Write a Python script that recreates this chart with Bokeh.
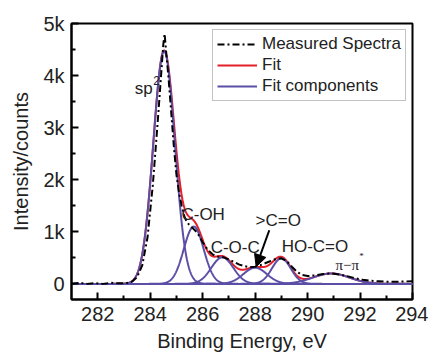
import numpy as np
from bokeh.plotting import figure
from bokeh.models import (FixedTicker, Legend, LegendItem, Arrow, NormalHead,
                          Range1d, ColumnDataSource)
from bokeh.core.properties import value
from bokeh.embed import file_html
from bokeh.resources import INLINE

# ---- measured spectrum ----
meas_x = [281.0, 281.3, 281.6, 281.9, 282.2, 282.5, 282.8, 283.1, 283.3, 283.5,
          283.7, 283.9, 284.1, 284.3, 284.4, 284.5, 284.55, 284.6, 284.7, 284.8,
          284.9, 285.0, 285.1, 285.2, 285.3, 285.4, 285.6, 285.8, 286.0, 286.2,
          286.4, 286.6, 286.8, 287.0, 287.2, 287.4, 287.6, 287.8, 288.0, 288.2,
          288.4, 288.6, 288.8, 289.0, 289.2, 289.4, 289.6, 289.8, 290.0, 290.3,
          290.6, 290.9, 291.2, 291.5, 291.8, 292.1, 292.4, 292.7, 293.0, 293.3,
          293.6, 294.0]
meas_y = [0, 20, 0, 15, 0, 20, 10, 15, 40, 130,
          360, 900, 1900, 3200, 3900, 4600, 4800, 4500, 3950, 3300,
          2650, 2100, 1750, 1500, 1300, 1180, 1080, 980, 800, 650,
          560, 520, 510, 470, 420, 370, 340, 320, 330, 360,
          400, 440, 480, 490, 440, 330, 230, 170, 150, 165,
          190, 200, 180, 150, 110, 80, 60, 50, 40, 40,
          45, 50]

# ---- fit components: centre, height, width ----
comp_names = ["sp2", "C-OH", "C-O-C", ">C=O", "HO-C=O", "pi-pi*"]
comp_center = [284.53, 285.66, 286.75, 288.0, 289.0, 290.9]
comp_height = [4470, 1100, 510, 310, 490, 200]
comp_sigma = [0.41, 0.38, 0.42, 0.45, 0.36, 0.70]

# ---- ticks ----
x_ticks = [282, 284, 286, 288, 290, 292, 294]
x_minor = [283, 285, 287, 289, 291, 293]
y_ticks = [0, 1000, 2000, 3000, 4000, 5000]
y_minor = [500, 1500, 2500, 3500, 4500]
y_tick_labels = ["0", "1k", "2k", "3k", "4k", "5k"]

# ---- annotations ----
label_text = ["C-OH", "C-O-C", ">C=O", "HO-C=O"]
label_x = [286.02, 287.24, 288.88, 290.28]
label_y = [1338, 707, 1224, 727]

FONT = "Liberation Sans"
PURPLE = "#5a4ea6"
RED = "#e3202a"

p = figure(width=428, height=354, output_backend="svg", toolbar_location=None,
           x_range=Range1d(281, 294), y_range=Range1d(-300, 5000),
           min_border_left=71, min_border_right=16, min_border_top=23,
           min_border_bottom=54, background_fill_color="white",
           border_fill_color="white")
p.grid.visible = False
p.outline_line_color = "black"
p.outline_line_width = 2
p.outline_line_alpha = 1

grid = np.linspace(281, 294, 1301)
comps = []
for c, h, s in zip(comp_center, comp_height, comp_sigma):
    comps.append(h * np.exp(-(grid - c) ** 2 / (2 * s ** 2)))
fit = np.sum(comps, axis=0)

r_fit = p.line(grid, fit, line_color=RED, line_width=2)
r_comps = []
for cy in comps:
    r_comps.append(p.line(grid, cy, line_color=PURPLE, line_width=2))
r_meas = p.line(meas_x, meas_y, line_color="black", line_width=2,
                line_dash="7 3 2 3")

# text labels
src = ColumnDataSource(dict(x=label_x, y=label_y, t=label_text))
p.text(x="x", y="y", text="t", source=src, text_font=value(FONT),
       text_font_size="17px", text_align="center", text_baseline="middle",
       text_color="#222222")
p.text(x=[284.10], y=[3748], text=["sp"], text_font=value(FONT),
       text_font_size="17px", text_align="right", text_baseline="alphabetic",
       text_color="#222222")
p.text(x=[284.12], y=[3900], text=["2"], text_font=value(FONT),
       text_font_size="12px", text_align="left", text_baseline="alphabetic",
       text_color="#222222")
p.text(x=[291.51], y=[363], text=["\u03c0\u2212\u03c0"],
       text_font=value("Liberation Serif"), text_font_size="15px",
       text_align="center", text_baseline="middle", text_color="#222222")
p.text(x=[292.06], y=[540], text=["*"], text_font=value("Liberation Serif"),
       text_font_size="9px", text_align="center", text_baseline="middle",
       text_color="#222222")

p.add_layout(Arrow(end=NormalHead(size=12, fill_color="black", line_color="black"),
                   x_start=288.54, y_start=1030, x_end=288.04, y_end=330,
                   line_color="black", line_width=2))

# axes
for ax in (p.xaxis[0], p.yaxis[0]):
    ax.axis_line_color = "black"
    ax.axis_line_width = 2
    ax.major_tick_in = 7
    ax.major_tick_out = 0
    ax.minor_tick_in = 4
    ax.minor_tick_out = 0
    ax.major_tick_line_width = 2
    ax.minor_tick_line_width = 2
    ax.major_tick_line_color = "black"
    ax.minor_tick_line_color = "black"
    ax.major_label_text_font = FONT
    ax.major_label_text_font_size = "20px"
    ax.major_label_text_color = "#222222"
    ax.axis_label_text_font = FONT
    ax.axis_label_text_font_size = "20px"
    ax.axis_label_text_font_style = "normal"
    ax.axis_label_text_color = "#222222"
    ax.major_label_standoff = 7

p.xaxis[0].ticker = FixedTicker(ticks=x_ticks, minor_ticks=x_minor)
p.yaxis[0].ticker = FixedTicker(ticks=y_ticks, minor_ticks=y_minor)
p.yaxis[0].major_label_overrides = {t: l for t, l in zip(y_ticks, y_tick_labels)}
p.xaxis[0].axis_label = "Binding Energy, eV"
p.yaxis[0].axis_label = "Intensity/counts"
p.xaxis[0].axis_label_standoff = 6
p.yaxis[0].axis_label_standoff = 8

legend = Legend(items=[LegendItem(label="Measured Spectra", renderers=[r_meas]),
                       LegendItem(label="Fit", renderers=[r_fit]),
                       LegendItem(label="Fit components", renderers=[r_comps[0]])],
                location=(141, 198), padding=4, spacing=1, margin=0,
                glyph_width=40, glyph_height=20, label_height=20,
                label_standoff=5, label_text_font=FONT,
                label_text_font_size="17px", label_text_color="#222222",
                border_line_color="#888888", border_line_width=1,
                background_fill_color="white", background_fill_alpha=1)
p.add_layout(legend)

open("out.html", "w").write(file_html(p, INLINE))
